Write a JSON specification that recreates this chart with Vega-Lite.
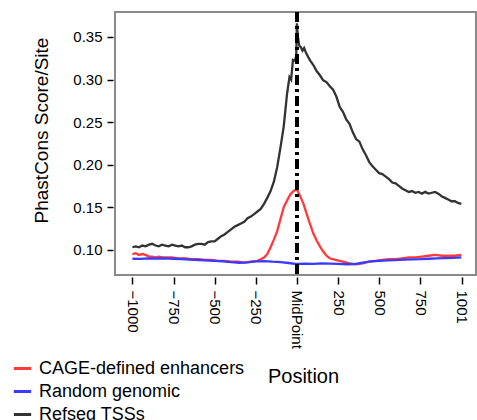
{
  "$schema": "https://vega.github.io/schema/vega-lite/v6.json",
  "autosize": "none",
  "width": 361,
  "height": 263,
  "padding": {"left": 115, "top": 12, "right": 1, "bottom": 145},
  "background": "white",
  "config": {
    "font": "Liberation Sans",
    "view": {"stroke": "#8a8a8a", "strokeWidth": 2},
    "axis": {"grid": false, "domain": false, "tickColor": "black", "labelColor": "black", "titleColor": "black", "labelFont": "Liberation Sans", "titleFont": "Liberation Sans", "titleFontWeight": "normal"},
    "legend": {"labelFont": "Liberation Sans"}
  },
  "datasets": {
    "profiles": [
      {"pos": -1000, "val": 0.103, "series": "Refseq TSSs"},
      {"pos": -980, "val": 0.104, "series": "Refseq TSSs"},
      {"pos": -960, "val": 0.103, "series": "Refseq TSSs"},
      {"pos": -940, "val": 0.105, "series": "Refseq TSSs"},
      {"pos": -920, "val": 0.104, "series": "Refseq TSSs"},
      {"pos": -900, "val": 0.106, "series": "Refseq TSSs"},
      {"pos": -880, "val": 0.107, "series": "Refseq TSSs"},
      {"pos": -860, "val": 0.105, "series": "Refseq TSSs"},
      {"pos": -840, "val": 0.104, "series": "Refseq TSSs"},
      {"pos": -820, "val": 0.106, "series": "Refseq TSSs"},
      {"pos": -800, "val": 0.105, "series": "Refseq TSSs"},
      {"pos": -780, "val": 0.104, "series": "Refseq TSSs"},
      {"pos": -760, "val": 0.106, "series": "Refseq TSSs"},
      {"pos": -740, "val": 0.105, "series": "Refseq TSSs"},
      {"pos": -720, "val": 0.104, "series": "Refseq TSSs"},
      {"pos": -700, "val": 0.105, "series": "Refseq TSSs"},
      {"pos": -680, "val": 0.103, "series": "Refseq TSSs"},
      {"pos": -660, "val": 0.103, "series": "Refseq TSSs"},
      {"pos": -640, "val": 0.104, "series": "Refseq TSSs"},
      {"pos": -620, "val": 0.106, "series": "Refseq TSSs"},
      {"pos": -600, "val": 0.107, "series": "Refseq TSSs"},
      {"pos": -580, "val": 0.107, "series": "Refseq TSSs"},
      {"pos": -560, "val": 0.106, "series": "Refseq TSSs"},
      {"pos": -540, "val": 0.109, "series": "Refseq TSSs"},
      {"pos": -520, "val": 0.110, "series": "Refseq TSSs"},
      {"pos": -500, "val": 0.110, "series": "Refseq TSSs"},
      {"pos": -480, "val": 0.113, "series": "Refseq TSSs"},
      {"pos": -460, "val": 0.116, "series": "Refseq TSSs"},
      {"pos": -440, "val": 0.118, "series": "Refseq TSSs"},
      {"pos": -420, "val": 0.121, "series": "Refseq TSSs"},
      {"pos": -400, "val": 0.124, "series": "Refseq TSSs"},
      {"pos": -380, "val": 0.127, "series": "Refseq TSSs"},
      {"pos": -360, "val": 0.129, "series": "Refseq TSSs"},
      {"pos": -340, "val": 0.131, "series": "Refseq TSSs"},
      {"pos": -320, "val": 0.133, "series": "Refseq TSSs"},
      {"pos": -300, "val": 0.137, "series": "Refseq TSSs"},
      {"pos": -280, "val": 0.139, "series": "Refseq TSSs"},
      {"pos": -260, "val": 0.142, "series": "Refseq TSSs"},
      {"pos": -240, "val": 0.145, "series": "Refseq TSSs"},
      {"pos": -220, "val": 0.148, "series": "Refseq TSSs"},
      {"pos": -200, "val": 0.154, "series": "Refseq TSSs"},
      {"pos": -180, "val": 0.161, "series": "Refseq TSSs"},
      {"pos": -160, "val": 0.169, "series": "Refseq TSSs"},
      {"pos": -140, "val": 0.180, "series": "Refseq TSSs"},
      {"pos": -120, "val": 0.197, "series": "Refseq TSSs"},
      {"pos": -100, "val": 0.220, "series": "Refseq TSSs"},
      {"pos": -80, "val": 0.245, "series": "Refseq TSSs"},
      {"pos": -60, "val": 0.283, "series": "Refseq TSSs"},
      {"pos": -45, "val": 0.303, "series": "Refseq TSSs"},
      {"pos": -35, "val": 0.300, "series": "Refseq TSSs"},
      {"pos": -24, "val": 0.323, "series": "Refseq TSSs"},
      {"pos": -12, "val": 0.322, "series": "Refseq TSSs"},
      {"pos": -4, "val": 0.328, "series": "Refseq TSSs"},
      {"pos": 0, "val": 0.366, "series": "Refseq TSSs"},
      {"pos": 6, "val": 0.350, "series": "Refseq TSSs"},
      {"pos": 14, "val": 0.340, "series": "Refseq TSSs"},
      {"pos": 24, "val": 0.338, "series": "Refseq TSSs"},
      {"pos": 34, "val": 0.334, "series": "Refseq TSSs"},
      {"pos": 44, "val": 0.337, "series": "Refseq TSSs"},
      {"pos": 56, "val": 0.331, "series": "Refseq TSSs"},
      {"pos": 70, "val": 0.326, "series": "Refseq TSSs"},
      {"pos": 82, "val": 0.322, "series": "Refseq TSSs"},
      {"pos": 100, "val": 0.317, "series": "Refseq TSSs"},
      {"pos": 120, "val": 0.310, "series": "Refseq TSSs"},
      {"pos": 140, "val": 0.305, "series": "Refseq TSSs"},
      {"pos": 160, "val": 0.299, "series": "Refseq TSSs"},
      {"pos": 180, "val": 0.297, "series": "Refseq TSSs"},
      {"pos": 200, "val": 0.292, "series": "Refseq TSSs"},
      {"pos": 220, "val": 0.288, "series": "Refseq TSSs"},
      {"pos": 240, "val": 0.280, "series": "Refseq TSSs"},
      {"pos": 260, "val": 0.268, "series": "Refseq TSSs"},
      {"pos": 280, "val": 0.262, "series": "Refseq TSSs"},
      {"pos": 300, "val": 0.253, "series": "Refseq TSSs"},
      {"pos": 320, "val": 0.248, "series": "Refseq TSSs"},
      {"pos": 340, "val": 0.238, "series": "Refseq TSSs"},
      {"pos": 360, "val": 0.230, "series": "Refseq TSSs"},
      {"pos": 380, "val": 0.227, "series": "Refseq TSSs"},
      {"pos": 400, "val": 0.218, "series": "Refseq TSSs"},
      {"pos": 420, "val": 0.211, "series": "Refseq TSSs"},
      {"pos": 440, "val": 0.203, "series": "Refseq TSSs"},
      {"pos": 460, "val": 0.198, "series": "Refseq TSSs"},
      {"pos": 480, "val": 0.194, "series": "Refseq TSSs"},
      {"pos": 500, "val": 0.190, "series": "Refseq TSSs"},
      {"pos": 520, "val": 0.189, "series": "Refseq TSSs"},
      {"pos": 540, "val": 0.186, "series": "Refseq TSSs"},
      {"pos": 560, "val": 0.183, "series": "Refseq TSSs"},
      {"pos": 580, "val": 0.179, "series": "Refseq TSSs"},
      {"pos": 600, "val": 0.178, "series": "Refseq TSSs"},
      {"pos": 620, "val": 0.175, "series": "Refseq TSSs"},
      {"pos": 640, "val": 0.172, "series": "Refseq TSSs"},
      {"pos": 660, "val": 0.170, "series": "Refseq TSSs"},
      {"pos": 680, "val": 0.168, "series": "Refseq TSSs"},
      {"pos": 700, "val": 0.169, "series": "Refseq TSSs"},
      {"pos": 720, "val": 0.167, "series": "Refseq TSSs"},
      {"pos": 740, "val": 0.168, "series": "Refseq TSSs"},
      {"pos": 760, "val": 0.166, "series": "Refseq TSSs"},
      {"pos": 780, "val": 0.168, "series": "Refseq TSSs"},
      {"pos": 800, "val": 0.166, "series": "Refseq TSSs"},
      {"pos": 820, "val": 0.167, "series": "Refseq TSSs"},
      {"pos": 840, "val": 0.168, "series": "Refseq TSSs"},
      {"pos": 860, "val": 0.166, "series": "Refseq TSSs"},
      {"pos": 880, "val": 0.163, "series": "Refseq TSSs"},
      {"pos": 900, "val": 0.161, "series": "Refseq TSSs"},
      {"pos": 920, "val": 0.159, "series": "Refseq TSSs"},
      {"pos": 940, "val": 0.157, "series": "Refseq TSSs"},
      {"pos": 960, "val": 0.157, "series": "Refseq TSSs"},
      {"pos": 980, "val": 0.155, "series": "Refseq TSSs"},
      {"pos": 1000, "val": 0.154, "series": "Refseq TSSs"},

      {"pos": -1000, "val": 0.095, "series": "CAGE-defined enhancers"},
      {"pos": -980, "val": 0.096, "series": "CAGE-defined enhancers"},
      {"pos": -960, "val": 0.094, "series": "CAGE-defined enhancers"},
      {"pos": -940, "val": 0.095, "series": "CAGE-defined enhancers"},
      {"pos": -920, "val": 0.094, "series": "CAGE-defined enhancers"},
      {"pos": -900, "val": 0.092, "series": "CAGE-defined enhancers"},
      {"pos": -880, "val": 0.092, "series": "CAGE-defined enhancers"},
      {"pos": -860, "val": 0.091, "series": "CAGE-defined enhancers"},
      {"pos": -840, "val": 0.092, "series": "CAGE-defined enhancers"},
      {"pos": -820, "val": 0.091, "series": "CAGE-defined enhancers"},
      {"pos": -800, "val": 0.091, "series": "CAGE-defined enhancers"},
      {"pos": -760, "val": 0.091, "series": "CAGE-defined enhancers"},
      {"pos": -720, "val": 0.090, "series": "CAGE-defined enhancers"},
      {"pos": -680, "val": 0.090, "series": "CAGE-defined enhancers"},
      {"pos": -640, "val": 0.089, "series": "CAGE-defined enhancers"},
      {"pos": -600, "val": 0.089, "series": "CAGE-defined enhancers"},
      {"pos": -560, "val": 0.088, "series": "CAGE-defined enhancers"},
      {"pos": -520, "val": 0.088, "series": "CAGE-defined enhancers"},
      {"pos": -480, "val": 0.087, "series": "CAGE-defined enhancers"},
      {"pos": -440, "val": 0.087, "series": "CAGE-defined enhancers"},
      {"pos": -400, "val": 0.086, "series": "CAGE-defined enhancers"},
      {"pos": -360, "val": 0.086, "series": "CAGE-defined enhancers"},
      {"pos": -320, "val": 0.085, "series": "CAGE-defined enhancers"},
      {"pos": -280, "val": 0.086, "series": "CAGE-defined enhancers"},
      {"pos": -240, "val": 0.087, "series": "CAGE-defined enhancers"},
      {"pos": -220, "val": 0.089, "series": "CAGE-defined enhancers"},
      {"pos": -200, "val": 0.091, "series": "CAGE-defined enhancers"},
      {"pos": -180, "val": 0.095, "series": "CAGE-defined enhancers"},
      {"pos": -160, "val": 0.103, "series": "CAGE-defined enhancers"},
      {"pos": -140, "val": 0.112, "series": "CAGE-defined enhancers"},
      {"pos": -120, "val": 0.122, "series": "CAGE-defined enhancers"},
      {"pos": -100, "val": 0.136, "series": "CAGE-defined enhancers"},
      {"pos": -80, "val": 0.150, "series": "CAGE-defined enhancers"},
      {"pos": -60, "val": 0.158, "series": "CAGE-defined enhancers"},
      {"pos": -40, "val": 0.165, "series": "CAGE-defined enhancers"},
      {"pos": -20, "val": 0.169, "series": "CAGE-defined enhancers"},
      {"pos": 0, "val": 0.171, "series": "CAGE-defined enhancers"},
      {"pos": 20, "val": 0.163, "series": "CAGE-defined enhancers"},
      {"pos": 40, "val": 0.154, "series": "CAGE-defined enhancers"},
      {"pos": 60, "val": 0.142, "series": "CAGE-defined enhancers"},
      {"pos": 80, "val": 0.130, "series": "CAGE-defined enhancers"},
      {"pos": 100, "val": 0.119, "series": "CAGE-defined enhancers"},
      {"pos": 120, "val": 0.111, "series": "CAGE-defined enhancers"},
      {"pos": 140, "val": 0.104, "series": "CAGE-defined enhancers"},
      {"pos": 160, "val": 0.098, "series": "CAGE-defined enhancers"},
      {"pos": 180, "val": 0.093, "series": "CAGE-defined enhancers"},
      {"pos": 200, "val": 0.090, "series": "CAGE-defined enhancers"},
      {"pos": 240, "val": 0.088, "series": "CAGE-defined enhancers"},
      {"pos": 280, "val": 0.086, "series": "CAGE-defined enhancers"},
      {"pos": 320, "val": 0.084, "series": "CAGE-defined enhancers"},
      {"pos": 360, "val": 0.083, "series": "CAGE-defined enhancers"},
      {"pos": 400, "val": 0.084, "series": "CAGE-defined enhancers"},
      {"pos": 440, "val": 0.086, "series": "CAGE-defined enhancers"},
      {"pos": 480, "val": 0.087, "series": "CAGE-defined enhancers"},
      {"pos": 520, "val": 0.088, "series": "CAGE-defined enhancers"},
      {"pos": 560, "val": 0.089, "series": "CAGE-defined enhancers"},
      {"pos": 600, "val": 0.089, "series": "CAGE-defined enhancers"},
      {"pos": 640, "val": 0.090, "series": "CAGE-defined enhancers"},
      {"pos": 680, "val": 0.091, "series": "CAGE-defined enhancers"},
      {"pos": 720, "val": 0.091, "series": "CAGE-defined enhancers"},
      {"pos": 760, "val": 0.092, "series": "CAGE-defined enhancers"},
      {"pos": 800, "val": 0.093, "series": "CAGE-defined enhancers"},
      {"pos": 840, "val": 0.094, "series": "CAGE-defined enhancers"},
      {"pos": 880, "val": 0.093, "series": "CAGE-defined enhancers"},
      {"pos": 920, "val": 0.093, "series": "CAGE-defined enhancers"},
      {"pos": 960, "val": 0.093, "series": "CAGE-defined enhancers"},
      {"pos": 1000, "val": 0.094, "series": "CAGE-defined enhancers"},

      {"pos": -1000, "val": 0.0895, "series": "Random genomic"},
      {"pos": -950, "val": 0.0893, "series": "Random genomic"},
      {"pos": -900, "val": 0.0900, "series": "Random genomic"},
      {"pos": -850, "val": 0.0898, "series": "Random genomic"},
      {"pos": -800, "val": 0.0900, "series": "Random genomic"},
      {"pos": -750, "val": 0.0895, "series": "Random genomic"},
      {"pos": -700, "val": 0.0890, "series": "Random genomic"},
      {"pos": -650, "val": 0.0885, "series": "Random genomic"},
      {"pos": -600, "val": 0.0880, "series": "Random genomic"},
      {"pos": -550, "val": 0.0875, "series": "Random genomic"},
      {"pos": -500, "val": 0.0870, "series": "Random genomic"},
      {"pos": -450, "val": 0.0865, "series": "Random genomic"},
      {"pos": -400, "val": 0.0855, "series": "Random genomic"},
      {"pos": -350, "val": 0.0848, "series": "Random genomic"},
      {"pos": -300, "val": 0.0852, "series": "Random genomic"},
      {"pos": -250, "val": 0.0865, "series": "Random genomic"},
      {"pos": -200, "val": 0.0868, "series": "Random genomic"},
      {"pos": -150, "val": 0.0860, "series": "Random genomic"},
      {"pos": -100, "val": 0.0855, "series": "Random genomic"},
      {"pos": -50, "val": 0.0845, "series": "Random genomic"},
      {"pos": 0, "val": 0.0833, "series": "Random genomic"},
      {"pos": 50, "val": 0.0838, "series": "Random genomic"},
      {"pos": 100, "val": 0.0835, "series": "Random genomic"},
      {"pos": 150, "val": 0.0840, "series": "Random genomic"},
      {"pos": 200, "val": 0.0838, "series": "Random genomic"},
      {"pos": 250, "val": 0.0835, "series": "Random genomic"},
      {"pos": 300, "val": 0.0830, "series": "Random genomic"},
      {"pos": 350, "val": 0.0832, "series": "Random genomic"},
      {"pos": 400, "val": 0.0850, "series": "Random genomic"},
      {"pos": 450, "val": 0.0865, "series": "Random genomic"},
      {"pos": 500, "val": 0.0870, "series": "Random genomic"},
      {"pos": 550, "val": 0.0875, "series": "Random genomic"},
      {"pos": 600, "val": 0.0878, "series": "Random genomic"},
      {"pos": 650, "val": 0.0885, "series": "Random genomic"},
      {"pos": 700, "val": 0.0888, "series": "Random genomic"},
      {"pos": 750, "val": 0.0890, "series": "Random genomic"},
      {"pos": 800, "val": 0.0895, "series": "Random genomic"},
      {"pos": 850, "val": 0.0900, "series": "Random genomic"},
      {"pos": 900, "val": 0.0903, "series": "Random genomic"},
      {"pos": 950, "val": 0.0905, "series": "Random genomic"},
      {"pos": 1000, "val": 0.0910, "series": "Random genomic"}
    ]
  },
  "data": {"name": "profiles"},
  "layer": [
    {
      "mark": {"type": "line", "strokeWidth": 2.3, "clip": true},
      "encoding": {
        "x": {
          "field": "pos", "type": "quantitative",
          "scale": {"domain": [-1106, 1089], "nice": false, "zero": false},
          "axis": {
            "values": [-1000, -750, -500, -250, 0, 250, 500, 750, 1001],
            "labelExpr": "datum.value == 0 ? 'MidPoint' : (datum.value < 0 ? '\u2212' + abs(datum.value) : '' + datum.value)",
            "labelAngle": 90, "labelAlign": "left", "labelBaseline": "middle",
            "labelFontSize": 15, "labelPadding": 6,
            "tickSize": 7, "tickWidth": 1.5, "offset": 2,
            "title": "Position", "titleFontSize": 20,
            "titleX": 188, "titleY": 99, "titleAlign": "center", "titleBaseline": "middle"
          }
        },
        "y": {
          "field": "val", "type": "quantitative",
          "scale": {"domain": [0.0704, 0.3793], "nice": false, "zero": false},
          "axis": {
            "values": [0.10, 0.15, 0.20, 0.25, 0.30, 0.35],
            "format": ".2f",
            "labelFontSize": 15, "labelPadding": 5,
            "tickSize": 6, "tickWidth": 1.5, "offset": 2,
            "title": "PhastCons Score/Site", "titleFontSize": 19,
            "titleX": -71.5, "titleY": 118, "titleAngle": -90,
            "titleAlign": "center", "titleBaseline": "middle"
          }
        },
        "color": {
          "field": "series", "type": "nominal",
          "scale": {
            "domain": ["CAGE-defined enhancers", "Random genomic", "Refseq TSSs"],
            "range": ["#ff3a3a", "#3a3aff", "#333333"]
          },
          "legend": {
            "orient": "none", "legendX": -103, "legendY": 346,
            "title": null, "symbolType": "stroke", "symbolSize": 300,
            "symbolStrokeWidth": 3, "labelFontSize": 18, "labelColor": "black",
            "labelOffset": 6, "rowPadding": 3, "padding": 0, "labelLimit": 0
          }
        }
      }
    },
    {
      "mark": {"type": "rule", "color": "black", "strokeWidth": 3, "strokeDash": [10, 4, 3, 4]},
      "encoding": {"x": {"datum": 0}}
    }
  ]
}
